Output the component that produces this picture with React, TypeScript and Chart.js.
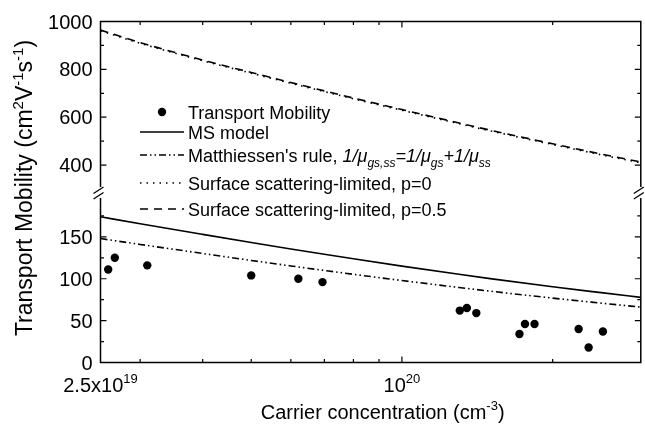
import React, { useEffect, useRef } from 'react';
import { Chart, registerables } from 'chart.js';

Chart.register(...registerables);

const FONT = '"Liberation Sans", Arial, Helvetica, sans-serif';

// ---- data ----
const modelConcentration = [2.5e19, 3e19, 4e19, 5e19, 6e19, 7e19, 8e19, 1e20, 1.3e20, 1.5e20, 2e20, 2.5e20, 3e20];
const msModel = [174, 165.7, 153, 143.3, 135.6, 129.2, 123.8, 115.1, 105.3, 100.2, 90.4, 83.4, 77.8];
const matthiessenRule = [148, 141, 130.2, 121.9, 115.3, 109.9, 105.3, 97.9, 89.6, 85.2, 76.9, 70.9, 66.1];
const surfaceP0 = [961, 909, 836, 784, 742, 707, 677, 629, 573, 543, 486, 443, 410];
const surfaceP05 = [964, 912, 839, 787, 745, 710, 680, 632, 576, 546, 489, 446, 413];

const measuredConcentration = [2.59e19, 2.67e19, 3.1e19, 5.0e19, 6.21e19, 6.94e19, 1.305e20, 1.348e20, 1.408e20, 1.717e20, 1.761e20, 1.84e20, 2.254e20, 2.36e20, 2.52e20];
const measuredMobility = [111, 125, 116, 104, 100, 96, 62, 65, 59, 34, 46, 46, 40, 18, 37];

// ---- axes ----
const xMin = 2.5e19;
const xMax = 3e20;
const topRange = [287.5, 1000];
const bottomRange = [0, 203.6];
const topMajorTicks = [400, 600, 800, 1000];
const topMinorTicks = [500, 700, 900];
const bottomMajorTicks = [0, 50, 100, 150];
const bottomMinorTicks = [25, 75, 125, 175];
const xMajorTicks = [1e20];
const xMinorTicks = [3e19, 4e19, 5e19, 6e19, 7e19, 8e19, 9e19, 2e20];
const xTickLabels = [
  { value: 2.5e19, base: '2.5x10', exp: '19' },
  { value: 1e20, base: '10', exp: '20' },
];

type Seg = { t: string; size: number; dy?: number; italic?: boolean };

function fontOf(s: Seg) {
  return `${s.italic ? 'italic ' : ''}${s.size}px ${FONT}`;
}

function drawRich(ctx: CanvasRenderingContext2D, segs: Seg[], x: number, y: number, align: 'left' | 'center' | 'right') {
  ctx.textAlign = 'left';
  ctx.textBaseline = 'alphabetic';
  const widths = segs.map((s) => {
    ctx.font = fontOf(s);
    return ctx.measureText(s.t).width;
  });
  const total = widths.reduce((a, b) => a + b, 0);
  let cur = align === 'center' ? x - total / 2 : align === 'right' ? x - total : x;
  segs.forEach((s, i) => {
    ctx.font = fontOf(s);
    ctx.fillText(s.t, cur, y + (s.dy || 0));
    cur += widths[i];
  });
}

const legendRich: Record<string, Seg[]> = {
  "Matthiessen's rule": [
    { t: "Matthiessen's rule, ", size: 18 },
    { t: '1/\u03bc', size: 18, italic: true },
    { t: 'gs,ss', size: 12, italic: true, dy: 5 },
    { t: '=1/\u03bc', size: 18, italic: true },
    { t: 'gs', size: 12, italic: true, dy: 5 },
    { t: '+1/\u03bc', size: 18, italic: true },
    { t: 'ss', size: 12, italic: true, dy: 5 },
  ],
};
const legendRowY = [112, 132, 155, 183, 209];

const axesPlugin = {
  id: 'brokenAxes',
  afterDraw(chart: any) {
    const { ctx, chartArea: ca, scales } = chart;
    const xs = scales.x;
    const yT = scales.yTop;
    const yB = scales.yBot;
    const L = ca.left, R = ca.right, T = ca.top, B = ca.bottom;
    const brk = (yT.bottom + yB.top) / 2;
    ctx.save();
    ctx.strokeStyle = '#000';
    ctx.fillStyle = '#000';
    ctx.setLineDash([]);
    ctx.lineWidth = 1.5;
    // frame with break gap
    ctx.beginPath();
    ctx.moveTo(L, brk - 5);
    ctx.lineTo(L, T);
    ctx.lineTo(R, T);
    ctx.lineTo(R, brk - 5);
    ctx.moveTo(L, brk + 6);
    ctx.lineTo(L, B);
    ctx.lineTo(R, B);
    ctx.lineTo(R, brk + 6);
    ctx.stroke();
    // break marks
    ctx.lineWidth = 1.3;
    for (const ax of [L, R]) {
      ctx.beginPath();
      ctx.moveTo(ax - 7, brk + 1.5);
      ctx.lineTo(ax + 3, brk - 5);
      ctx.moveTo(ax - 7, brk + 7);
      ctx.lineTo(ax + 3, brk + 0.5);
      ctx.stroke();
    }
    // ticks (inward)
    ctx.lineWidth = 1.2;
    const major = 6, minor = 3.5;
    ctx.beginPath();
    const xt = (v: number, len: number) => {
      const p = xs.getPixelForValue(v);
      ctx.moveTo(p, B);
      ctx.lineTo(p, B - len);
      ctx.moveTo(p, T);
      ctx.lineTo(p, T + len);
    };
    xMajorTicks.forEach((v) => xt(v, major));
    xMinorTicks.forEach((v) => xt(v, minor));
    const yt = (scale: any, v: number, len: number) => {
      const p = scale.getPixelForValue(v);
      ctx.moveTo(L, p);
      ctx.lineTo(L + len, p);
      ctx.moveTo(R, p);
      ctx.lineTo(R - len, p);
    };
    topMajorTicks.forEach((v) => yt(yT, v, major));
    topMinorTicks.forEach((v) => yt(yT, v, minor));
    bottomMajorTicks.forEach((v) => yt(yB, v, major));
    bottomMinorTicks.forEach((v) => yt(yB, v, minor));
    ctx.stroke();

    // y tick labels
    ctx.font = `20px ${FONT}`;
    ctx.textAlign = 'right';
    ctx.textBaseline = 'alphabetic';
    topMajorTicks.forEach((v) => ctx.fillText(String(v), L - 8, yT.getPixelForValue(v) + 7));
    bottomMajorTicks.forEach((v) => ctx.fillText(String(v), L - 8, yB.getPixelForValue(v) + 7));

    // x tick labels
    xTickLabels.forEach((lab) => {
      drawRich(
        ctx,
        [
          { t: lab.base, size: 20 },
          { t: lab.exp, size: 13, dy: -9 },
        ],
        xs.getPixelForValue(lab.value),
        B + 29,
        'center'
      );
    });

    // axis titles
    drawRich(
      ctx,
      [
        { t: 'Carrier concentration (cm', size: 20 },
        { t: '-3', size: 13, dy: -9 },
        { t: ')', size: 20 },
      ],
      (L + R) / 2 + 12,
      B + 56,
      'center'
    );
    ctx.save();
    ctx.translate(32, 188);
    ctx.rotate(-Math.PI / 2);
    drawRich(
      ctx,
      [
        { t: 'Transport Mobility (cm', size: 23 },
        { t: '2', size: 15, dy: -9.5 },
        { t: 'V', size: 23 },
        { t: '-1', size: 15, dy: -9.5 },
        { t: 's', size: 23 },
        { t: '-1', size: 15, dy: -9.5 },
        { t: ')', size: 23 },
      ],
      0,
      0,
      'center'
    );
    ctx.restore();

    // legend
    const sx0 = 140, sx1 = 184, tx = 188;
    chart.data.datasets.forEach((ds: any, i: number) => {
      const y = legendRowY[i];
      if (ds.showLine) {
        ctx.save();
        ctx.strokeStyle = ds.borderColor;
        ctx.lineWidth = ds.borderWidth;
        ctx.setLineDash(ds.borderDash || []);
        ctx.beginPath();
        ctx.moveTo(sx0, y);
        ctx.lineTo(sx1, y);
        ctx.stroke();
        ctx.restore();
      } else {
        ctx.beginPath();
        ctx.arc((sx0 + sx1) / 2, y, ds.pointRadius, 0, Math.PI * 2);
        ctx.fill();
      }
      const segs = legendRich[ds.label] || [{ t: ds.label, size: 18 }];
      drawRich(ctx, segs, tx, y + 6.5, 'left');
    });
    ctx.restore();
  },
};

function pairs(xs: number[], ys: number[]) {
  return xs.map((x, i) => ({ x, y: ys[i] }));
}

export default function App() {
  const ref = useRef<HTMLCanvasElement>(null);
  useEffect(() => {
    const lineBase = {
      showLine: true,
      borderColor: '#000',
      backgroundColor: '#000',
      borderWidth: 1.6,
      pointRadius: 0,
      fill: false,
      cubicInterpolationMode: 'monotone' as const,
    };
    const chart = new Chart(ref.current as HTMLCanvasElement, {
      type: 'scatter',
      data: {
        datasets: [
          {
            label: 'Transport Mobility',
            data: pairs(measuredConcentration, measuredMobility),
            yAxisID: 'yBot',
            showLine: false,
            pointRadius: 4.2,
            pointBackgroundColor: '#000',
            pointBorderWidth: 0,
            backgroundColor: '#000',
            borderColor: '#000',
          },
          { ...lineBase, label: 'MS model', data: pairs(modelConcentration, msModel), yAxisID: 'yBot', borderDash: [] },
          { ...lineBase, label: "Matthiessen's rule", data: pairs(modelConcentration, matthiessenRule), yAxisID: 'yBot', borderDash: [7, 3, 1.5, 3, 1.5, 3] },
          { ...lineBase, label: 'Surface scattering-limited, p=0', data: pairs(modelConcentration, surfaceP0), yAxisID: 'yTop', borderDash: [1.5, 5] },
          { ...lineBase, label: 'Surface scattering-limited, p=0.5', data: pairs(modelConcentration, surfaceP05), yAxisID: 'yTop', borderDash: [8, 6] },
        ],
      },
      options: {
        responsive: false,
        maintainAspectRatio: false,
        devicePixelRatio: 1,
        animation: false,
        layout: { padding: { left: 100.5, right: 2.5, top: 21.5, bottom: 72.5 } },
        plugins: { legend: { display: false }, tooltip: { enabled: false } },
        scales: {
          x: {
            type: 'logarithmic',
            min: xMin,
            max: xMax,
            grid: { display: false, drawTicks: false },
            border: { display: false },
            ticks: { display: false },
          },
          yTop: {
            type: 'linear',
            position: 'left',
            stack: 'mobility',
            stackWeight: 1,
            weight: 2,
            min: topRange[0],
            max: topRange[1],
            grid: { display: false, drawTicks: false },
            border: { display: false },
            ticks: { display: false },
          },
          yBot: {
            type: 'linear',
            position: 'left',
            stack: 'mobility',
            stackWeight: 1,
            weight: 1,
            min: bottomRange[0],
            max: bottomRange[1],
            grid: { display: false, drawTicks: false },
            border: { display: false },
            ticks: { display: false },
          },
        },
      } as any,
      plugins: [axesPlugin],
    });
    return () => chart.destroy();
  }, []);
  return (
    <div style={{ position: 'fixed', left: 0, top: 0, width: 645, height: 435, background: '#fff' }}>
      <canvas ref={ref} width={645} height={435} style={{ width: 645, height: 435, display: 'block' }} />
    </div>
  );
}
